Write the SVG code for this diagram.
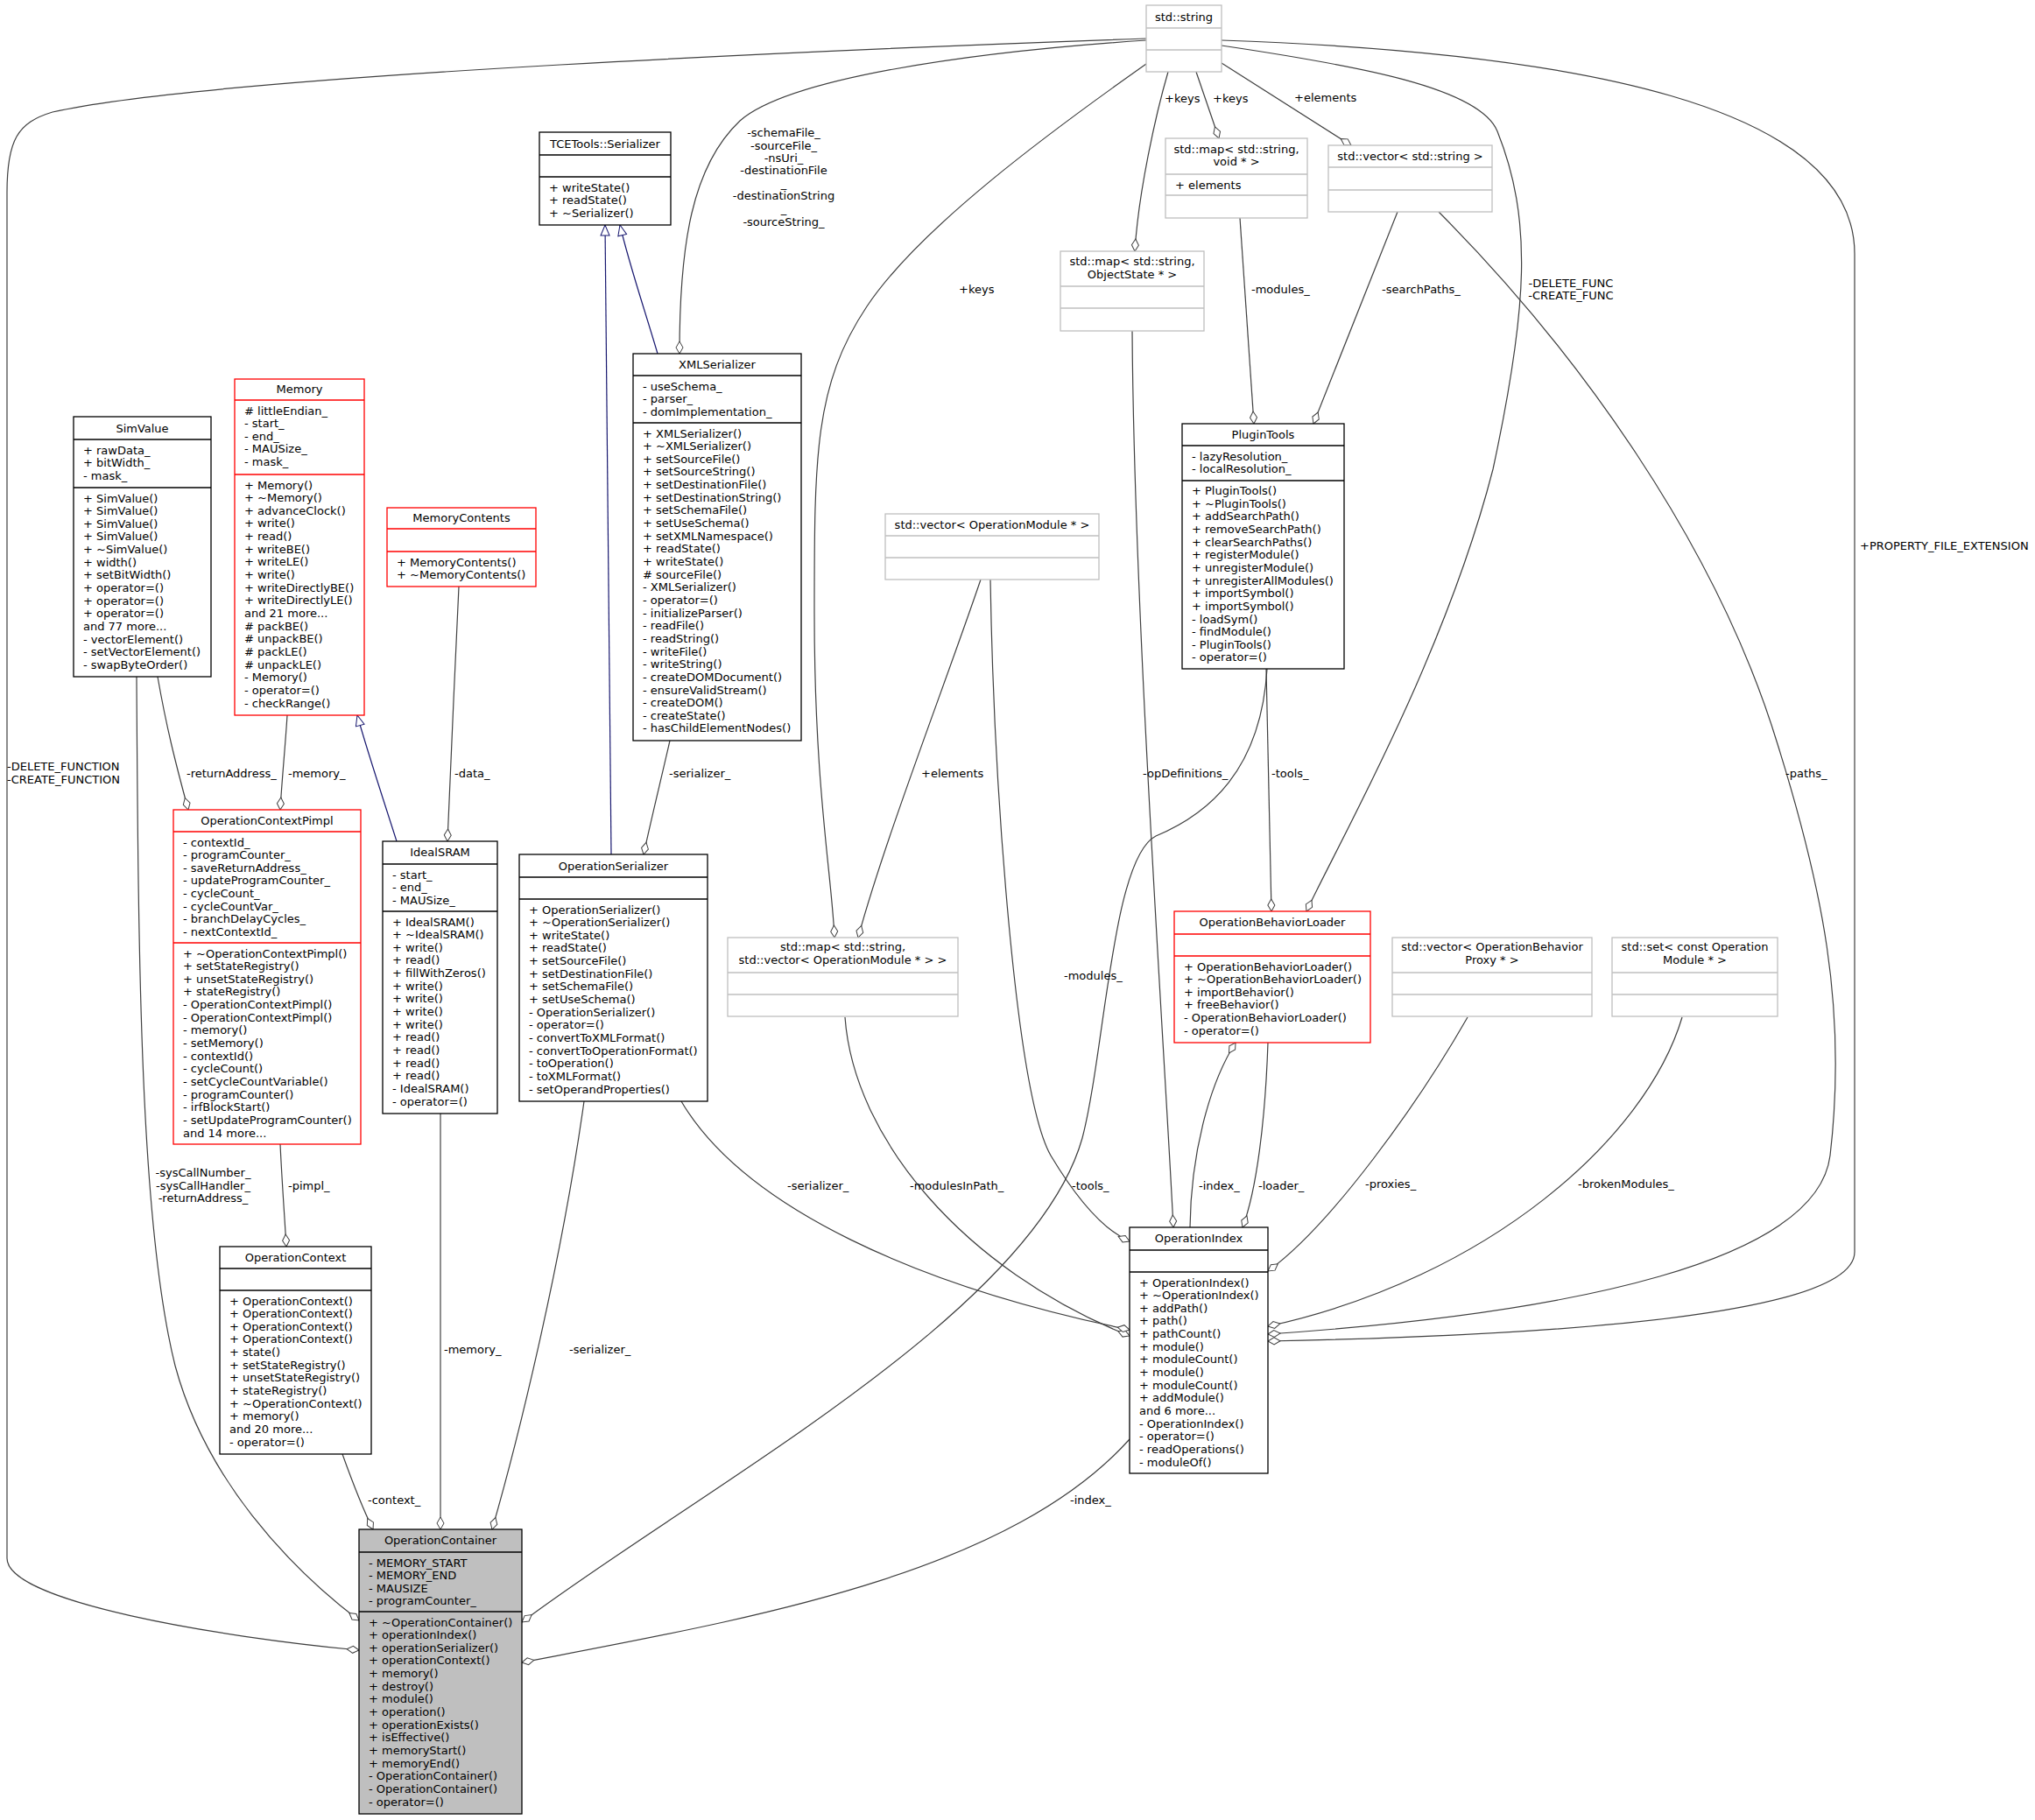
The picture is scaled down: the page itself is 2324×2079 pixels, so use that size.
<svg xmlns="http://www.w3.org/2000/svg" width="2324" height="2079" viewBox="0 0 2324 2079">
<style>
text{font-family:"DejaVu Sans","Liberation Sans",sans-serif;font-size:13px;fill:#000}
.c{text-anchor:middle}
.b{fill:#fff;stroke:#000;stroke-width:1.3}
.r{fill:#fff;stroke:#f00;stroke-width:1.3}
.g{fill:#fff;stroke:#bfbfbf;stroke-width:1.3}
.m{fill:#bfbfbf;stroke:#000;stroke-width:1.3}
.lb{stroke:#000;stroke-width:1.3}
.lr{stroke:#f00;stroke-width:1.3}
.lg{stroke:#bfbfbf;stroke-width:1.3}
.e{fill:none;stroke:#404040;stroke-width:1.2;marker-end:url(#d)}
.i{fill:none;stroke:#191970;stroke-width:1.2;marker-end:url(#a)}
</style>
<defs>
<marker id="d" markerWidth="16" markerHeight="10" refX="15" refY="5" orient="auto" markerUnits="userSpaceOnUse"><path d="M1,5 L8,1 L15,5 L8,9 Z" fill="#fff" stroke="#404040"/></marker>
<marker id="a" markerWidth="14" markerHeight="12" refX="13" refY="6" orient="auto" markerUnits="userSpaceOnUse"><path d="M1,1 L13,6 L1,11 Z" fill="#fff" stroke="#191970"/></marker>
</defs>
<rect width="2324" height="2079" fill="#fff"/>

<g id="connectors">
<path class="e" d="M1309,44 C1000,55 250,85 60,128 C20,140 8,160 8,220 L8,1780 C8,1830 250,1870 410,1885"/>
<path class="e" d="M156,773 C158,1100 160,1400 200,1560 C235,1690 330,1790 410,1851"/>
<path class="e" d="M180,773 C190,830 200,870 215,925"/>
<path class="e" d="M328,817 C326,850 322,890 320,925"/>
<path class="i" d="M453,961 C440,920 420,860 408,817"/>
<path class="e" d="M524,670 C520,760 514,880 511,961"/>
<path class="i" d="M698,976 C696,700 692,450 691,257"/>
<path class="i" d="M751,404 C735,350 718,300 708,257"/>
<path class="e" d="M765,846 C755,890 745,930 735,976"/>
<path class="e" d="M1309,46 C1100,60 900,90 845,138 C790,190 776,280 776,404"/>
<path class="e" d="M1309,73 C1200,150 1050,260 990,350 C930,440 930,520 930,700 C930,900 950,1000 953,1071"/>
<path class="e" d="M1120,662 C1080,780 1010,960 980,1071"/>
<path class="e" d="M1334,82 C1320,130 1300,220 1296,287"/>
<path class="e" d="M1366,82 L1392,158"/>
<path class="e" d="M1395,72 L1543,166"/>
<path class="e" d="M1416,249 L1432,484"/>
<path class="e" d="M1596,242 L1500,484"/>
<path class="e" d="M1395,52 C1550,75 1690,100 1710,150 C1750,250 1745,350 1705,536 C1650,750 1530,960 1492,1041"/>
<path class="e" d="M1643,242 C1800,400 1960,620 2030,850 C2080,1010 2110,1150 2090,1320 C2075,1440 1800,1500 1448,1524"/>
<path class="e" d="M1395,46 C1800,60 2118,120 2118,290 L2118,1430 C2118,1500 1800,1525 1448,1532"/>
<path class="e" d="M1447,764 C1440,880 1380,930 1320,955 C1270,980 1262,1200 1236,1300 C1180,1500 800,1700 596,1853"/>
<path class="e" d="M1446,764 L1452,1041"/>
<path class="e" d="M1293,378 C1295,700 1330,1200 1340,1402"/>
<path class="e" d="M1131,662 C1135,900 1160,1250 1200,1320 C1230,1370 1260,1405 1290,1418"/>
<path class="e" d="M1448,1191 C1445,1280 1435,1360 1419,1402"/>
<path class="e" d="M1359,1402 C1360,1320 1380,1240 1411,1191"/>
<path class="e" d="M965,1162 C975,1300 1100,1450 1290,1526"/>
<path class="e" d="M778,1258 C850,1380 1050,1470 1290,1519"/>
<path class="e" d="M1676,1162 C1620,1260 1520,1400 1448,1452"/>
<path class="e" d="M1921,1162 C1880,1300 1700,1460 1448,1515"/>
<path class="e" d="M1290,1644 C1150,1800 850,1850 596,1899"/>
<path class="e" d="M391,1661 C405,1700 415,1725 426,1747"/>
<path class="e" d="M503,1272 L503,1747"/>
<path class="e" d="M667,1258 C640,1450 590,1650 562,1747"/>
<path class="e" d="M320,1307 C322,1350 325,1390 327,1424"/>
<text x="8" y="880">-DELETE_FUNCTION</text><text x="8" y="895">-CREATE_FUNCTION</text>
<text class="c" x="232" y="1344">-sysCallNumber_</text><text class="c" x="232" y="1359">-sysCallHandler_</text><text class="c" x="232" y="1373">-returnAddress_</text>
<text x="213" y="888">-returnAddress_</text>
<text x="329" y="888">-memory_</text>
<text x="519" y="888">-data_</text>
<text x="764" y="888">-serializer_</text>
<text class="c" x="895" y="156">-schemaFile_</text><text class="c" x="895" y="171">-sourceFile_</text><text class="c" x="895" y="185">-nsUri_</text><text class="c" x="895" y="199">-destinationFile</text><text class="c" x="895" y="214">_</text><text class="c" x="895" y="228">-destinationString</text><text class="c" x="895" y="243">_</text><text class="c" x="895" y="258">-sourceString_</text>
<text x="1095" y="335">+keys</text>
<text x="1052" y="888">+elements</text>
<text x="1330" y="117">+keys</text><text x="1385" y="117">+keys</text><text x="1478" y="116">+elements</text>
<text x="1429" y="335">-modules_</text><text x="1578" y="335">-searchPaths_</text>
<text class="c" x="1794" y="328">-DELETE_FUNC</text><text class="c" x="1794" y="342">-CREATE_FUNC</text>
<text x="2039" y="888">-paths_</text>
<text x="2124" y="628">+PROPERTY_FILE_EXTENSION</text>
<text x="1305" y="888">-opDefinitions_</text>
<text x="1452" y="888">-tools_</text>
<text x="1215" y="1119">-modules_</text>
<text x="1224" y="1359">-tools_</text>
<text x="1369" y="1359">-index_</text><text x="1437" y="1359">-loader_</text>
<text x="1039" y="1359">-modulesInPath_</text><text x="899" y="1359">-serializer_</text>
<text x="1559" y="1357">-proxies_</text><text x="1802" y="1357">-brokenModules_</text>
<text x="1222" y="1718">-index_</text>
<text x="420" y="1718">-context_</text>
<text x="507" y="1546">-memory_</text><text x="650" y="1546">-serializer_</text>
<text x="329" y="1359">-pimpl_</text>
</g>

<g id="SimValue">
<rect class="b" x="84" y="476" width="157" height="297"/>
<line class="lb" x1="84" y1="502" x2="241" y2="502"/><line class="lb" x1="84" y1="557" x2="241" y2="557"/>
<text class="c" x="162.5" y="493.5">SimValue</text>
<text x="95" y="518.5">+ rawData_</text><text x="95" y="533.1">+ bitWidth_</text><text x="95" y="547.8">- mask_</text>
<text x="95" y="573.5">+ SimValue()</text><text x="95" y="588.1">+ SimValue()</text><text x="95" y="602.8">+ SimValue()</text><text x="95" y="617.4">+ SimValue()</text><text x="95" y="632.1">+ ~SimValue()</text><text x="95" y="646.7">+ width()</text><text x="95" y="661.4">+ setBitWidth()</text><text x="95" y="676">+ operator=()</text><text x="95" y="690.7">+ operator=()</text><text x="95" y="705.3">+ operator=()</text><text x="95" y="720">and 77 more...</text><text x="95" y="734.6">- vectorElement()</text><text x="95" y="749.3">- setVectorElement()</text><text x="95" y="763.9">- swapByteOrder()</text>
</g>

<g id="Memory">
<rect class="r" x="268" y="433" width="148" height="384"/>
<line class="lr" x1="268" y1="457" x2="416" y2="457"/><line class="lr" x1="268" y1="542" x2="416" y2="542"/>
<text class="c" x="342" y="449">Memory</text>
<text x="279" y="473.5"># littleEndian_</text><text x="279" y="488.1">- start_</text><text x="279" y="502.8">- end_</text><text x="279" y="517.4">- MAUSize_</text><text x="279" y="532.1">- mask_</text>
<text x="279" y="558.5">+ Memory()</text><text x="279" y="573.1">+ ~Memory()</text><text x="279" y="587.8">+ advanceClock()</text><text x="279" y="602.4">+ write()</text><text x="279" y="617.1">+ read()</text><text x="279" y="631.7">+ writeBE()</text><text x="279" y="646.4">+ writeLE()</text><text x="279" y="661">+ write()</text><text x="279" y="675.7">+ writeDirectlyBE()</text><text x="279" y="690.3">+ writeDirectlyLE()</text><text x="279" y="705">and 21 more...</text><text x="279" y="719.6"># packBE()</text><text x="279" y="734.3"># unpackBE()</text><text x="279" y="748.9"># packLE()</text><text x="279" y="763.6"># unpackLE()</text><text x="279" y="778.2">- Memory()</text><text x="279" y="792.9">- operator=()</text><text x="279" y="807.5">- checkRange()</text>
</g>

<g id="MemoryContents">
<rect class="r" x="442" y="580" width="170" height="90"/>
<line class="lr" x1="442" y1="604" x2="612" y2="604"/><line class="lr" x1="442" y1="630" x2="612" y2="630"/>
<text class="c" x="527" y="596">MemoryContents</text>
<text x="453" y="646.5">+ MemoryContents()</text><text x="453" y="661.1">+ ~MemoryContents()</text>
</g>

<g id="OperationContextPimpl">
<rect class="r" x="198" y="925" width="214" height="382"/>
<line class="lr" x1="198" y1="950" x2="412" y2="950"/><line class="lr" x1="198" y1="1077" x2="412" y2="1077"/>
<text class="c" x="305" y="942">OperationContextPimpl</text>
<text x="209" y="966.5">- contextId_</text><text x="209" y="981.1">- programCounter_</text><text x="209" y="995.8">- saveReturnAddress_</text><text x="209" y="1010.4">- updateProgramCounter_</text><text x="209" y="1025.1">- cycleCount_</text><text x="209" y="1039.7">- cycleCountVar_</text><text x="209" y="1054.4">- branchDelayCycles_</text><text x="209" y="1069">- nextContextId_</text>
<text x="209" y="1093.5">+ ~OperationContextPimpl()</text><text x="209" y="1108.1">+ setStateRegistry()</text><text x="209" y="1122.8">+ unsetStateRegistry()</text><text x="209" y="1137.4">+ stateRegistry()</text><text x="209" y="1152.1">- OperationContextPimpl()</text><text x="209" y="1166.7">- OperationContextPimpl()</text><text x="209" y="1181.4">- memory()</text><text x="209" y="1196">- setMemory()</text><text x="209" y="1210.7">- contextId()</text><text x="209" y="1225.3">- cycleCount()</text><text x="209" y="1240">- setCycleCountVariable()</text><text x="209" y="1254.6">- programCounter()</text><text x="209" y="1269.3">- irfBlockStart()</text><text x="209" y="1283.9">- setUpdateProgramCounter()</text><text x="209" y="1298.6">and 14 more...</text>
</g>

<g id="IdealSRAM">
<rect class="b" x="437" y="961" width="131" height="311"/>
<line class="lb" x1="437" y1="987" x2="568" y2="987"/><line class="lb" x1="437" y1="1041" x2="568" y2="1041"/>
<text class="c" x="502.5" y="978">IdealSRAM</text>
<text x="448" y="1003.5">- start_</text><text x="448" y="1018.1">- end_</text><text x="448" y="1032.8">- MAUSize_</text>
<text x="448" y="1057.5">+ IdealSRAM()</text><text x="448" y="1072.1">+ ~IdealSRAM()</text><text x="448" y="1086.8">+ write()</text><text x="448" y="1101.4">+ read()</text><text x="448" y="1116.1">+ fillWithZeros()</text><text x="448" y="1130.7">+ write()</text><text x="448" y="1145.4">+ write()</text><text x="448" y="1160">+ write()</text><text x="448" y="1174.7">+ write()</text><text x="448" y="1189.3">+ read()</text><text x="448" y="1204">+ read()</text><text x="448" y="1218.6">+ read()</text><text x="448" y="1233.3">+ read()</text><text x="448" y="1247.9">- IdealSRAM()</text><text x="448" y="1262.6">- operator=()</text>
</g>

<g id="OperationSerializer">
<rect class="b" x="593" y="976" width="215" height="282"/>
<line class="lb" x1="593" y1="1002" x2="808" y2="1002"/><line class="lb" x1="593" y1="1027" x2="808" y2="1027"/>
<text class="c" x="700.5" y="994">OperationSerializer</text>
<text x="604" y="1043.5">+ OperationSerializer()</text><text x="604" y="1058.1">+ ~OperationSerializer()</text><text x="604" y="1072.8">+ writeState()</text><text x="604" y="1087.4">+ readState()</text><text x="604" y="1102.1">+ setSourceFile()</text><text x="604" y="1116.7">+ setDestinationFile()</text><text x="604" y="1131.4">+ setSchemaFile()</text><text x="604" y="1146">+ setUseSchema()</text><text x="604" y="1160.7">- OperationSerializer()</text><text x="604" y="1175.3">- operator=()</text><text x="604" y="1190">- convertToXMLFormat()</text><text x="604" y="1204.6">- convertToOperationFormat()</text><text x="604" y="1219.3">- toOperation()</text><text x="604" y="1233.9">- toXMLFormat()</text><text x="604" y="1248.6">- setOperandProperties()</text>
</g>

<g id="XMLSerializer">
<rect class="b" x="723" y="404" width="192" height="442"/>
<line class="lb" x1="723" y1="429" x2="915" y2="429"/><line class="lb" x1="723" y1="483" x2="915" y2="483"/>
<text class="c" x="819" y="421">XMLSerializer</text>
<text x="734" y="445.5">- useSchema_</text><text x="734" y="460.1">- parser_</text><text x="734" y="474.8">- domImplementation_</text>
<text x="734" y="499.5">+ XMLSerializer()</text><text x="734" y="514.1">+ ~XMLSerializer()</text><text x="734" y="528.8">+ setSourceFile()</text><text x="734" y="543.4">+ setSourceString()</text><text x="734" y="558.1">+ setDestinationFile()</text><text x="734" y="572.7">+ setDestinationString()</text><text x="734" y="587.4">+ setSchemaFile()</text><text x="734" y="602">+ setUseSchema()</text><text x="734" y="616.7">+ setXMLNamespace()</text><text x="734" y="631.3">+ readState()</text><text x="734" y="646">+ writeState()</text><text x="734" y="660.6"># sourceFile()</text><text x="734" y="675.3">- XMLSerializer()</text><text x="734" y="689.9">- operator=()</text><text x="734" y="704.6">- initializeParser()</text><text x="734" y="719.2">- readFile()</text><text x="734" y="733.9">- readString()</text><text x="734" y="748.5">- writeFile()</text><text x="734" y="763.2">- writeString()</text><text x="734" y="777.8">- createDOMDocument()</text><text x="734" y="792.5">- ensureValidStream()</text><text x="734" y="807.1">- createDOM()</text><text x="734" y="821.8">- createState()</text><text x="734" y="836.4">- hasChildElementNodes()</text>
</g>

<g id="Serializer">
<rect class="b" x="616" y="151" width="150" height="106"/>
<line class="lb" x1="616" y1="177" x2="766" y2="177"/><line class="lb" x1="616" y1="202" x2="766" y2="202"/>
<text class="c" x="691" y="169">TCETools::Serializer</text>
<text x="627" y="218.5">+ writeState()</text><text x="627" y="233.1">+ readState()</text><text x="627" y="247.8">+ ~Serializer()</text>
</g>

<g id="stdstring">
<rect class="g" x="1309" y="6" width="86" height="76"/>
<line class="lg" x1="1309" y1="32" x2="1395" y2="32"/><line class="lg" x1="1309" y1="57" x2="1395" y2="57"/>
<text class="c" x="1352" y="24">std::string</text>
</g>

<g id="mapVoid">
<rect class="g" x="1331" y="158" width="162" height="91"/>
<line class="lg" x1="1331" y1="199" x2="1493" y2="199"/><line class="lg" x1="1331" y1="223" x2="1493" y2="223"/>
<text class="c" x="1412" y="174.5">std::map&lt; std::string,</text><text class="c" x="1412" y="188.5">void * &gt;</text>
<text x="1342" y="215.5">+ elements</text>
</g>

<g id="vectorString">
<rect class="g" x="1517" y="166" width="187" height="76"/>
<line class="lg" x1="1517" y1="191" x2="1704" y2="191"/><line class="lg" x1="1517" y1="217" x2="1704" y2="217"/>
<text class="c" x="1610.5" y="183">std::vector&lt; std::string &gt;</text>
</g>

<g id="mapObjectState">
<rect class="g" x="1211" y="287" width="164" height="91"/>
<line class="lg" x1="1211" y1="327" x2="1375" y2="327"/><line class="lg" x1="1211" y1="352" x2="1375" y2="352"/>
<text class="c" x="1293" y="303">std::map&lt; std::string,</text><text class="c" x="1293" y="318">ObjectState * &gt;</text>
</g>

<g id="PluginTools">
<rect class="b" x="1350" y="484" width="185" height="280"/>
<line class="lb" x1="1350" y1="509" x2="1535" y2="509"/><line class="lb" x1="1350" y1="549" x2="1535" y2="549"/>
<text class="c" x="1442.5" y="501">PluginTools</text>
<text x="1361" y="525.5">- lazyResolution_</text><text x="1361" y="540.1">- localResolution_</text>
<text x="1361" y="565">+ PluginTools()</text><text x="1361" y="579.6">+ ~PluginTools()</text><text x="1361" y="594.3">+ addSearchPath()</text><text x="1361" y="608.9">+ removeSearchPath()</text><text x="1361" y="623.6">+ clearSearchPaths()</text><text x="1361" y="638.2">+ registerModule()</text><text x="1361" y="652.9">+ unregisterModule()</text><text x="1361" y="667.5">+ unregisterAllModules()</text><text x="1361" y="682.2">+ importSymbol()</text><text x="1361" y="696.8">+ importSymbol()</text><text x="1361" y="711.5">- loadSym()</text><text x="1361" y="726.1">- findModule()</text><text x="1361" y="740.8">- PluginTools()</text><text x="1361" y="755.4">- operator=()</text>
</g>

<g id="vectorOperationModule">
<rect class="g" x="1011" y="587" width="244" height="75"/>
<line class="lg" x1="1011" y1="612" x2="1255" y2="612"/><line class="lg" x1="1011" y1="637" x2="1255" y2="637"/>
<text class="c" x="1133" y="604">std::vector&lt; OperationModule * &gt;</text>
</g>

<g id="OperationBehaviorLoader">
<rect class="r" x="1341" y="1041" width="224" height="150"/>
<line class="lr" x1="1341" y1="1067" x2="1565" y2="1067"/><line class="lr" x1="1341" y1="1092" x2="1565" y2="1092"/>
<text class="c" x="1453" y="1058">OperationBehaviorLoader</text>
<text x="1352" y="1108.5">+ OperationBehaviorLoader()</text><text x="1352" y="1123.1">+ ~OperationBehaviorLoader()</text><text x="1352" y="1137.8">+ importBehavior()</text><text x="1352" y="1152.4">+ freeBehavior()</text><text x="1352" y="1167.1">- OperationBehaviorLoader()</text><text x="1352" y="1181.7">- operator=()</text>
</g>

<g id="vectorProxy">
<rect class="g" x="1590" y="1071" width="228" height="90"/>
<line class="lg" x1="1590" y1="1111" x2="1818" y2="1111"/><line class="lg" x1="1590" y1="1136" x2="1818" y2="1136"/>
<text class="c" x="1704" y="1086">std::vector&lt; OperationBehavior</text><text class="c" x="1704" y="1101">Proxy * &gt;</text>
</g>

<g id="setModule">
<rect class="g" x="1841" y="1071" width="189" height="90"/>
<line class="lg" x1="1841" y1="1111" x2="2030" y2="1111"/><line class="lg" x1="1841" y1="1136" x2="2030" y2="1136"/>
<text class="c" x="1935.5" y="1086">std::set&lt; const Operation</text><text class="c" x="1935.5" y="1101">Module * &gt;</text>
</g>

<g id="mapVector">
<rect class="g" x="831" y="1071" width="263" height="90"/>
<line class="lg" x1="831" y1="1111" x2="1094" y2="1111"/><line class="lg" x1="831" y1="1136" x2="1094" y2="1136"/>
<text class="c" x="962.5" y="1086">std::map&lt; std::string,</text><text class="c" x="962.5" y="1101">std::vector&lt; OperationModule * &gt; &gt;</text>
</g>

<g id="OperationIndex">
<rect class="b" x="1290" y="1402" width="158" height="281"/>
<line class="lb" x1="1290" y1="1428" x2="1448" y2="1428"/><line class="lb" x1="1290" y1="1453" x2="1448" y2="1453"/>
<text class="c" x="1369" y="1419">OperationIndex</text>
<text x="1301" y="1469.5">+ OperationIndex()</text><text x="1301" y="1484.1">+ ~OperationIndex()</text><text x="1301" y="1498.8">+ addPath()</text><text x="1301" y="1513.4">+ path()</text><text x="1301" y="1528.1">+ pathCount()</text><text x="1301" y="1542.7">+ module()</text><text x="1301" y="1557.4">+ moduleCount()</text><text x="1301" y="1572">+ module()</text><text x="1301" y="1586.7">+ moduleCount()</text><text x="1301" y="1601.3">+ addModule()</text><text x="1301" y="1616">and 6 more...</text><text x="1301" y="1630.6">- OperationIndex()</text><text x="1301" y="1645.3">- operator=()</text><text x="1301" y="1659.9">- readOperations()</text><text x="1301" y="1674.6">- moduleOf()</text>
</g>

<g id="OperationContext">
<rect class="b" x="251" y="1424" width="173" height="237"/>
<line class="lb" x1="251" y1="1449" x2="424" y2="1449"/><line class="lb" x1="251" y1="1474" x2="424" y2="1474"/>
<text class="c" x="337.5" y="1441">OperationContext</text>
<text x="262" y="1490.5">+ OperationContext()</text><text x="262" y="1505.1">+ OperationContext()</text><text x="262" y="1519.8">+ OperationContext()</text><text x="262" y="1534.4">+ OperationContext()</text><text x="262" y="1549.1">+ state()</text><text x="262" y="1563.7">+ setStateRegistry()</text><text x="262" y="1578.4">+ unsetStateRegistry()</text><text x="262" y="1593">+ stateRegistry()</text><text x="262" y="1607.7">+ ~OperationContext()</text><text x="262" y="1622.3">+ memory()</text><text x="262" y="1637">and 20 more...</text><text x="262" y="1651.6">- operator=()</text>
</g>

<g id="OperationContainer">
<rect class="m" x="410" y="1747" width="186" height="325"/>
<line class="lb" x1="410" y1="1773" x2="596" y2="1773"/><line class="lb" x1="410" y1="1841" x2="596" y2="1841"/>
<text class="c" x="503" y="1764">OperationContainer</text>
<text x="421" y="1789.5">- MEMORY_START</text><text x="421" y="1804.1">- MEMORY_END</text><text x="421" y="1818.8">- MAUSIZE</text><text x="421" y="1833.4">- programCounter_</text>
<text x="421" y="1857.5">+ ~OperationContainer()</text><text x="421" y="1872.1">+ operationIndex()</text><text x="421" y="1886.8">+ operationSerializer()</text><text x="421" y="1901.4">+ operationContext()</text><text x="421" y="1916.1">+ memory()</text><text x="421" y="1930.7">+ destroy()</text><text x="421" y="1945.4">+ module()</text><text x="421" y="1960">+ operation()</text><text x="421" y="1974.7">+ operationExists()</text><text x="421" y="1989.3">+ isEffective()</text><text x="421" y="2004">+ memoryStart()</text><text x="421" y="2018.6">+ memoryEnd()</text><text x="421" y="2033.3">- OperationContainer()</text><text x="421" y="2047.9">- OperationContainer()</text><text x="421" y="2062.6">- operator=()</text>
</g>
</svg>
